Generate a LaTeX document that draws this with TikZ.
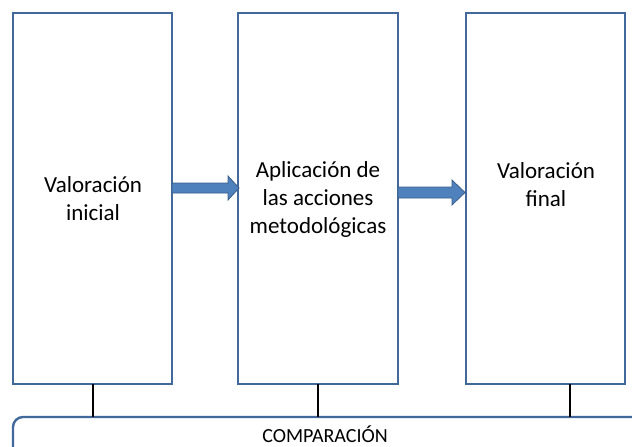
\documentclass[tikz,border=0pt]{standalone}
\usepackage{fontspec}
\setmainfont{Carlito}
\usetikzlibrary{shapes.arrows}
\definecolor{boxblue}{HTML}{41699B}
\definecolor{arrowfill}{HTML}{4F81BD}
\definecolor{arrowdraw}{HTML}{385D8A}
\tikzset{
  stagebox/.style={draw=boxblue, line width=2.4pt, fill=white},
  stagetext/.style={align=center, font=\fontsize{23}{28}\selectfont, text=black},
  bigarrow/.style={fill=arrowfill, draw=arrowdraw, line width=0.8pt},
  link/.style={draw=black, line width=2pt},
}
\begin{document}
\begin{tikzpicture}[x=1pt,y=-1pt]
\useasboundingbox (0,0) rectangle (632,447);
\begin{scope}
\clip (0,0) rectangle (632,447);
\draw[stagebox, rounded corners=10pt] (13,417) rectangle (660,480);
\end{scope}
\node[anchor=base, inner sep=0pt, font=\fontsize{20}{24}\selectfont] (cmp) at (325,442) {COMPARACIÓN};
\coordinate (cmpA) at (93,417);
\coordinate (cmpB) at (318,417);
\coordinate (cmpC) at (570,417);

\draw[stagebox] (13,13) rectangle (172,384);
\draw[stagebox] (238,13) rectangle (398,384);
\draw[stagebox] (466,13) rectangle (625,384);
\coordinate (b1) at (93,384);
\coordinate (b2) at (318,384);
\coordinate (b3) at (570,384);

\node[stagetext] (t1) at (93,199) {Valoración\\inicial};
\node[stagetext] (t2) at (318,199) {Aplicación de\\las acciones\\metodológicas};
\node[stagetext] (t3) at (546,185) {Valoración\\final};

\draw[link] (b1) -- (cmpA);
\draw[link] (b2) -- (cmpB);
\draw[link] (b3) -- (cmpC);

% arrows
\draw[bigarrow] (172,183) -- (228,183) -- (228,176) -- (239,188) -- (228,200) -- (228,193) -- (172,193) -- cycle;
\draw[bigarrow] (398,187) -- (452,187) -- (452,180) -- (465,192.5) -- (452,205) -- (452,198) -- (398,198) -- cycle;
\end{tikzpicture}
\end{document}
